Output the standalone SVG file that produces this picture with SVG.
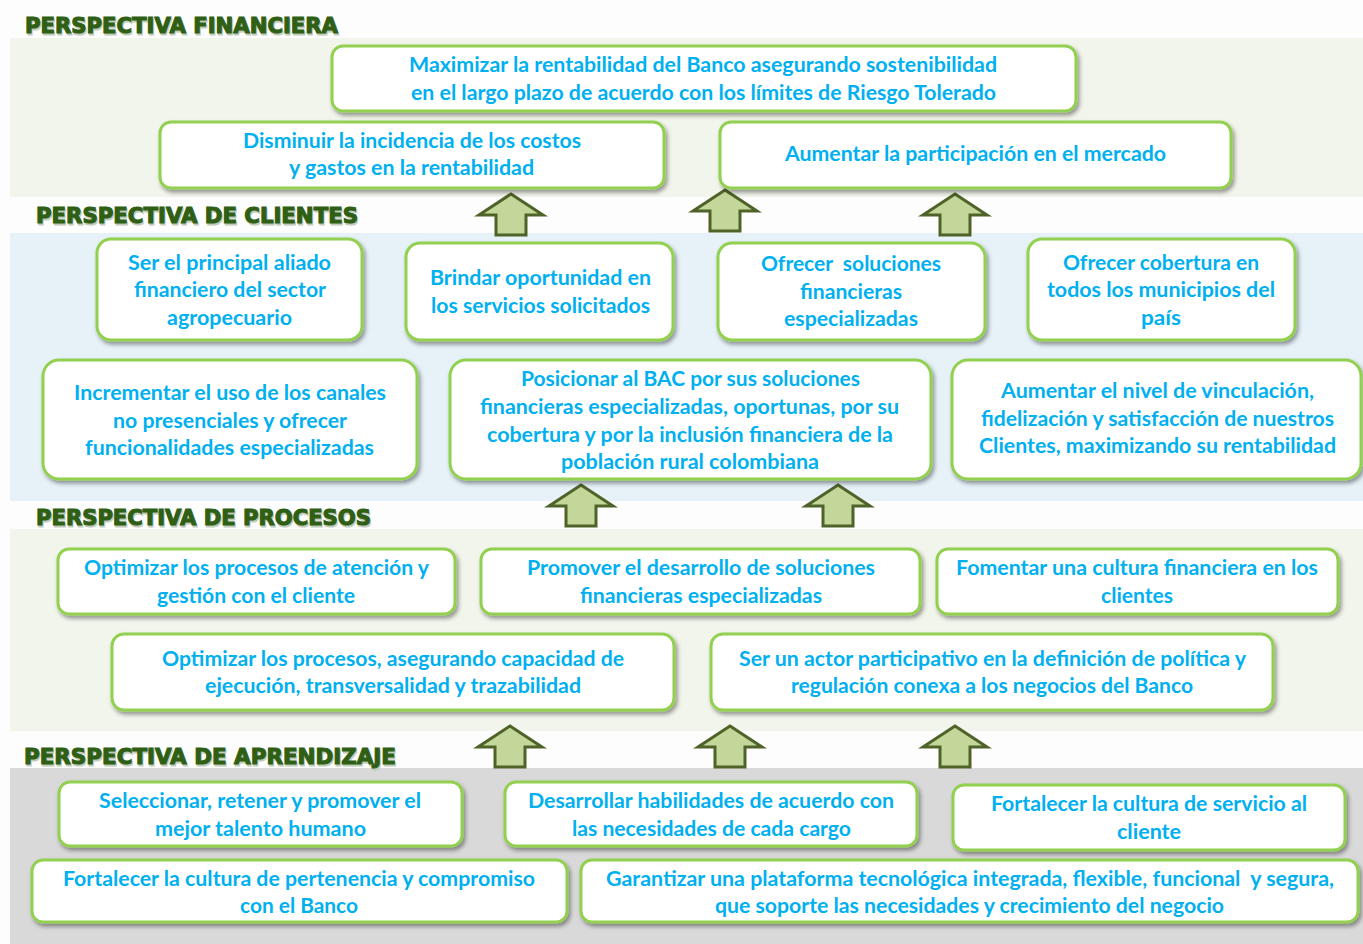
<svg xmlns="http://www.w3.org/2000/svg" width="1363" height="944" viewBox="0 0 1363 944">
<style>
.bandG{fill:#f2f5eb}
.bandB{fill:#e6f1f8}
.bandD{fill:#d9d9d9}
.hdr{font-family:"DejaVu Sans","Liberation Sans",Arial,sans-serif;font-weight:700;font-size:21px;fill:#2f5f14;stroke:#2f5f14;stroke-width:1.1px}
.hdrs{font-family:"DejaVu Sans","Liberation Sans",Arial,sans-serif;font-weight:700;font-size:21px;fill:#c3ccba;stroke:#c3ccba;stroke-width:1.1px}
.box{fill:#fff;stroke:#92d050;stroke-width:3}
.t{font-family:Lato,"Open Sans","Liberation Sans",sans-serif;font-weight:700;font-size:20px;fill:#00b0f0;text-anchor:middle}
.arr{fill:#c4d79b;stroke:#4f6228;stroke-width:3;stroke-linejoin:miter}
</style>
<defs>
<filter id="sh" x="-10%" y="-20%" width="120%" height="150%">
<feDropShadow dx="2" dy="3" stdDeviation="2" flood-color="#000" flood-opacity="0.4"/>
</filter>
<path id="up" d="M0,0 L32,21 L15,21 L15,41 L-15,41 L-15,21 L-32,21 Z"/>
</defs>
<rect width="1363" height="944" fill="#fdfdfd"/>
<rect class="bandG" x="10" y="38" width="1353" height="159"/>
<rect class="bandB" x="10" y="233" width="1353" height="268"/>
<rect class="bandG" x="10" y="529" width="1353" height="202"/>
<rect class="bandD" x="10" y="768" width="1353" height="176"/>

<g id="headers">
<text class="hdrs" x="26" y="34.5" textLength="313" lengthAdjust="spacingAndGlyphs">PERSPECTIVA FINANCIERA</text>
<text class="hdr" x="25" y="33" textLength="313" lengthAdjust="spacingAndGlyphs">PERSPECTIVA FINANCIERA</text>
<text class="hdrs" x="37" y="224.5" textLength="322" lengthAdjust="spacingAndGlyphs">PERSPECTIVA DE CLIENTES</text>
<text class="hdr" x="36" y="223" textLength="322" lengthAdjust="spacingAndGlyphs">PERSPECTIVA DE CLIENTES</text>
<text class="hdrs" x="37" y="526.5" textLength="335" lengthAdjust="spacingAndGlyphs">PERSPECTIVA DE PROCESOS</text>
<text class="hdr" x="36" y="525" textLength="335" lengthAdjust="spacingAndGlyphs">PERSPECTIVA DE PROCESOS</text>
<text class="hdrs" x="25" y="765.5" textLength="372" lengthAdjust="spacingAndGlyphs">PERSPECTIVA DE APRENDIZAJE</text>
<text class="hdr" x="24" y="764" textLength="372" lengthAdjust="spacingAndGlyphs">PERSPECTIVA DE APRENDIZAJE</text>
</g>

<g id="connectors">
<use href="#up" class="arr" x="511" y="194"/>
<use href="#up" class="arr" x="725" y="190"/>
<use href="#up" class="arr" x="955" y="194"/>
<use href="#up" class="arr" x="581" y="485"/>
<use href="#up" class="arr" x="838" y="485"/>
<use href="#up" class="arr" x="510" y="726"/>
<use href="#up" class="arr" x="730" y="726"/>
<use href="#up" class="arr" x="955" y="726"/>
</g>

<g id="n1"><rect class="box" filter="url(#sh)" x="332" y="46" width="744" height="65" rx="11"/>
<text class="t" x="703" y="72" textLength="588" lengthAdjust="spacingAndGlyphs">Maximizar la rentabilidad del Banco asegurando sostenibilidad</text>
<text class="t" x="703.5" y="100" textLength="585" lengthAdjust="spacingAndGlyphs">en el largo plazo de acuerdo con los límites de Riesgo Tolerado</text></g>
<g id="n2"><rect class="box" filter="url(#sh)" x="160" y="122" width="504" height="66" rx="11"/>
<text class="t" x="412" y="148" textLength="338" lengthAdjust="spacingAndGlyphs">Disminuir la incidencia de los costos</text>
<text class="t" x="411.5" y="175" textLength="245" lengthAdjust="spacingAndGlyphs">y gastos en la rentabilidad</text></g>
<g id="n3"><rect class="box" filter="url(#sh)" x="720" y="122" width="511" height="66" rx="11"/>
<text class="t" x="975.5" y="161" textLength="381" lengthAdjust="spacingAndGlyphs">Aumentar la participación en el mercado</text></g>

<g id="n4"><rect class="box" filter="url(#sh)" x="97" y="239" width="265" height="101" rx="14"/>
<text class="t" x="229.5" y="270" textLength="203" lengthAdjust="spacingAndGlyphs">Ser el principal aliado</text>
<text class="t" x="230" y="297" textLength="192" lengthAdjust="spacingAndGlyphs">financiero del sector</text>
<text class="t" x="229.5" y="325" textLength="125" lengthAdjust="spacingAndGlyphs">agropecuario</text></g>
<g id="n5"><rect class="box" filter="url(#sh)" x="406" y="243" width="267" height="97" rx="14"/>
<text class="t" x="540.5" y="285" textLength="221" lengthAdjust="spacingAndGlyphs">Brindar oportunidad en</text>
<text class="t" x="540.5" y="313" textLength="219" lengthAdjust="spacingAndGlyphs">los servicios solicitados</text></g>
<g id="n6"><rect class="box" filter="url(#sh)" x="718" y="243" width="267" height="97" rx="14"/>
<text class="t" x="851" y="271" textLength="180" lengthAdjust="spacingAndGlyphs" xml:space="preserve">Ofrecer  soluciones</text>
<text class="t" x="851" y="299" textLength="102" lengthAdjust="spacingAndGlyphs">financieras</text>
<text class="t" x="851" y="326" textLength="134" lengthAdjust="spacingAndGlyphs">especializadas</text></g>
<g id="n7"><rect class="box" filter="url(#sh)" x="1028" y="239" width="267" height="101" rx="14"/>
<text class="t" x="1161" y="270" textLength="196" lengthAdjust="spacingAndGlyphs">Ofrecer cobertura en</text>
<text class="t" x="1161" y="297" textLength="228" lengthAdjust="spacingAndGlyphs">todos los municipios del</text>
<text class="t" x="1161" y="325" textLength="40" lengthAdjust="spacingAndGlyphs">país</text></g>
<g id="n8"><rect class="box" filter="url(#sh)" x="43" y="360" width="374" height="119" rx="16"/>
<text class="t" x="230" y="400" textLength="312" lengthAdjust="spacingAndGlyphs">Incrementar el uso de los canales</text>
<text class="t" x="230" y="428" textLength="234" lengthAdjust="spacingAndGlyphs">no presenciales y ofrecer</text>
<text class="t" x="229.5" y="455" textLength="289" lengthAdjust="spacingAndGlyphs">funcionalidades especializadas</text></g>
<g id="n9"><rect class="box" filter="url(#sh)" x="450" y="360" width="481" height="119" rx="16"/>
<text class="t" x="690.5" y="386" textLength="339" lengthAdjust="spacingAndGlyphs">Posicionar al BAC por sus soluciones</text>
<text class="t" x="689.5" y="414" textLength="419" lengthAdjust="spacingAndGlyphs">financieras especializadas, oportunas, por su</text>
<text class="t" x="690" y="442" textLength="406" lengthAdjust="spacingAndGlyphs">cobertura y por la inclusión financiera de la</text>
<text class="t" x="690" y="469" textLength="258" lengthAdjust="spacingAndGlyphs">población rural colombiana</text></g>
<g id="n10"><rect class="box" filter="url(#sh)" x="952" y="360" width="409" height="119" rx="16"/>
<text class="t" x="1157.5" y="398" textLength="313" lengthAdjust="spacingAndGlyphs">Aumentar el nivel de vinculación,</text>
<text class="t" x="1157.5" y="426" textLength="353" lengthAdjust="spacingAndGlyphs">fidelización y satisfacción de nuestros</text>
<text class="t" x="1157.5" y="453" textLength="357" lengthAdjust="spacingAndGlyphs">Clientes, maximizando su rentabilidad</text></g>

<g id="n11"><rect class="box" filter="url(#sh)" x="58" y="549" width="397" height="65" rx="11"/>
<text class="t" x="256.5" y="575" textLength="345" lengthAdjust="spacingAndGlyphs">Optimizar los procesos de atención y</text>
<text class="t" x="256" y="603" textLength="198" lengthAdjust="spacingAndGlyphs">gestión con el cliente</text></g>
<g id="n12"><rect class="box" filter="url(#sh)" x="481" y="549" width="439" height="65" rx="11"/>
<text class="t" x="701" y="575" textLength="348" lengthAdjust="spacingAndGlyphs">Promover el desarrollo de soluciones</text>
<text class="t" x="701" y="603" textLength="242" lengthAdjust="spacingAndGlyphs">financieras especializadas</text></g>
<g id="n13"><rect class="box" filter="url(#sh)" x="937" y="549" width="401" height="65" rx="11"/>
<text class="t" x="1137" y="575" textLength="362" lengthAdjust="spacingAndGlyphs">Fomentar una cultura financiera en los</text>
<text class="t" x="1137" y="603" textLength="72" lengthAdjust="spacingAndGlyphs">clientes</text></g>
<g id="n14"><rect class="box" filter="url(#sh)" x="112" y="634" width="562" height="76" rx="12"/>
<text class="t" x="393" y="666" textLength="462" lengthAdjust="spacingAndGlyphs">Optimizar los procesos, asegurando capacidad de</text>
<text class="t" x="393" y="693" textLength="376" lengthAdjust="spacingAndGlyphs">ejecución, transversalidad y trazabilidad</text></g>
<g id="n15"><rect class="box" filter="url(#sh)" x="711" y="634" width="562" height="76" rx="12"/>
<text class="t" x="992.5" y="666" textLength="507" lengthAdjust="spacingAndGlyphs">Ser un actor participativo en la definición de política y</text>
<text class="t" x="992" y="693" textLength="402" lengthAdjust="spacingAndGlyphs">regulación conexa a los negocios del Banco</text></g>

<g id="n16"><rect class="box" filter="url(#sh)" x="59" y="782" width="403" height="64" rx="11"/>
<text class="t" x="260" y="808" textLength="322" lengthAdjust="spacingAndGlyphs">Seleccionar, retener y promover el</text>
<text class="t" x="260.5" y="836" textLength="211" lengthAdjust="spacingAndGlyphs">mejor talento humano</text></g>
<g id="n17"><rect class="box" filter="url(#sh)" x="505" y="782" width="412" height="64" rx="11"/>
<text class="t" x="711" y="808" textLength="366" lengthAdjust="spacingAndGlyphs">Desarrollar habilidades de acuerdo con</text>
<text class="t" x="711.5" y="836" textLength="279" lengthAdjust="spacingAndGlyphs">las necesidades de cada cargo</text></g>
<g id="n18"><rect class="box" filter="url(#sh)" x="953" y="785" width="392" height="65" rx="11"/>
<text class="t" x="1149" y="811" textLength="316" lengthAdjust="spacingAndGlyphs">Fortalecer la cultura de servicio al</text>
<text class="t" x="1149" y="839" textLength="64" lengthAdjust="spacingAndGlyphs">cliente</text></g>
<g id="n19"><rect class="box" filter="url(#sh)" x="32" y="860" width="535" height="62" rx="11"/>
<text class="t" x="299" y="886" textLength="472" lengthAdjust="spacingAndGlyphs">Fortalecer la cultura de pertenencia y compromiso</text>
<text class="t" x="299" y="913" textLength="118" lengthAdjust="spacingAndGlyphs">con el Banco</text></g>
<g id="n20"><rect class="box" filter="url(#sh)" x="581" y="860" width="777" height="62" rx="11"/>
<text class="t" x="970" y="886" textLength="728" lengthAdjust="spacingAndGlyphs" xml:space="preserve">Garantizar una plataforma tecnológica integrada, flexible, funcional  y segura,</text>
<text class="t" x="969.5" y="913" textLength="509" lengthAdjust="spacingAndGlyphs">que soporte las necesidades y crecimiento del negocio</text></g>
</svg>
